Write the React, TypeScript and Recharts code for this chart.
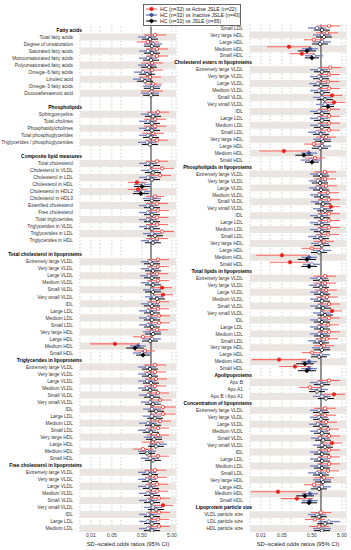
import React from 'react';
import {
  ComposedChart,
  Scatter,
  ErrorBar,
  XAxis,
  YAxis,
  CartesianGrid,
  ReferenceArea,
  ReferenceLine,
} from 'recharts';

type Ci = [number, number, number]; // odds ratio, lower 95% CI, upper 95% CI

const subclasses = [
  'Extremely large VLDL', 'Very large VLDL', 'Large VLDL', 'Medium VLDL', 'Small VLDL',
  'Very small VLDL', 'IDL', 'Large LDL', 'Medium LDL', 'Small LDL',
  'Very large HDL', 'Large HDL', 'Medium HDL', 'Small HDL',
];

const fattyAcids = [
  'Total fatty acids', 'Degree of unsaturation', 'Saturated fatty acids', 'Monounsaturated fatty acids',
  'Polyunsaturated fatty acids', 'Omega−6 fatty acids', 'Linoleic acid', 'Omega−3 fatty acids',
  'Docosahexaenoic acid',
];
const phospholipids = [
  'Sphingomyelins', 'Total cholines', 'Phosphatidylcholines', 'Total phosphoglycerides',
  'Triglycerides / phosphoglycerides',
];
const composite = [
  'Total cholesterol', 'Cholesterol in VLDL', 'Cholesterol in LDL', 'Cholesterol in HDL',
  'Cholesterol in HDL2', 'Cholesterol in HDL3', 'Esterified cholesterol', 'Free cholesterol',
  'Total triglycerides', 'Triglycerides in VLDL', 'Triglycerides in LDL', 'Triglycerides in HDL',
];
const apolipoproteins = ['Apo B', 'Apo A1', 'Apo B / Apo A1'];
const particleSize = ['VLDL particle size', 'LDL particle size', 'HDL particle size'];

type Group = { title: string | null; items: string[]; gap?: boolean; shadeFrom?: number };

const leftGroups: Group[] = [
  { title: 'Fatty acids', items: fattyAcids, gap: true },
  { title: 'Phospholipids', items: phospholipids, gap: true },
  { title: 'Composite lipid measures', items: composite, gap: true },
  { title: 'Total cholesterol in lipoproteins', items: subclasses },
  { title: 'Triglycerides in lipoproteins', items: subclasses },
  { title: 'Free cholesterol in lipoproteins', items: subclasses.slice(0, 9) },
];

const rightGroups: Group[] = [
  { title: null, items: subclasses.slice(9), shadeFrom: 9 },
  { title: 'Cholesterol esters in lipoproteins', items: subclasses },
  { title: 'Phospholipids in lipoproteins', items: subclasses },
  { title: 'Total lipids in lipoproteins', items: subclasses },
  { title: 'Apolipoproteins', items: apolipoproteins },
  { title: 'Concentration of lipoproteins', items: subclasses },
  { title: 'Lipoprotein particle size', items: particleSize },
];

// HC vs Active JSLE
const activeLeft: Ci[] = [
  [1.36, 0.58, 3.16], [0.79, 0.34, 1.85], [1.58, 0.68, 3.69], [1.58, 0.68, 3.69], [1.08, 0.46, 2.51],
  [1.08, 0.46, 2.51], [0.93, 0.4, 2.15], [1.17, 0.63, 2.33], [1.08, 0.46, 2.51],
  [1.71, 0.74, 3.98], [1.36, 0.58, 3.16], [1.36, 0.58, 3.16], [1.17, 0.5, 2.71], [1.58, 0.68, 3.69],
  [1.58, 0.68, 3.69], [2.33, 0.93, 5.84], [2.0, 0.86, 4.64], [0.34, 0.17, 0.71], [0.37, 0.17, 0.79],
  [1.36, 0.68, 2.71], [1.58, 0.68, 3.69], [1.71, 0.74, 3.98], [1.58, 0.68, 3.69], [1.58, 0.68, 3.69],
  [2.33, 0.93, 5.84], [1.58, 0.68, 3.69],
  [1.71, 0.74, 3.98], [1.71, 0.74, 3.98], [1.58, 0.68, 3.69], [1.71, 0.74, 3.98], [2.33, 1.08, 5.01],
  [2.51, 1.17, 5.41], [1.71, 0.74, 3.98], [1.71, 0.74, 3.98], [1.85, 0.79, 4.3], [1.85, 0.79, 4.3],
  [1.58, 0.68, 3.69], [0.54, 0.25, 1.17], [0.063, 0.0093, 0.43], [0.63, 0.29, 1.36],
  [1.36, 0.58, 3.16], [1.36, 0.58, 3.16], [1.47, 0.63, 3.41], [1.36, 0.58, 3.16], [1.71, 0.74, 3.98],
  [2.0, 0.86, 4.64], [2.51, 0.93, 6.7], [2.51, 0.93, 6.7], [2.0, 0.86, 4.64], [1.71, 0.74, 3.98],
  [1.71, 0.74, 3.98], [1.17, 0.5, 2.71], [0.54, 0.25, 1.17], [1.71, 0.74, 3.98],
  [1.36, 0.58, 3.16], [1.47, 0.63, 3.41], [1.58, 0.68, 3.69], [1.58, 0.68, 3.69], [1.85, 0.79, 4.3],
  [2.51, 1.17, 5.41], [1.85, 0.79, 4.3], [1.71, 0.74, 3.98], [1.85, 0.79, 4.3],
];

// HC vs Inactive JSLE
const inactiveLeft: Ci[] = [
  [0.74, 0.37, 1.47], [1.17, 0.58, 2.33], [0.79, 0.4, 1.58], [0.79, 0.4, 1.58], [0.74, 0.37, 1.47],
  [0.54, 0.27, 1.08], [0.5, 0.25, 1.04], [1.08, 0.54, 2.15], [0.93, 0.46, 1.85],
  [0.93, 0.46, 1.85], [0.79, 0.4, 1.58], [0.79, 0.4, 1.58], [0.79, 0.4, 1.58], [0.74, 0.37, 1.47],
  [0.79, 0.4, 1.58], [0.93, 0.46, 1.85], [0.79, 0.4, 1.58], [0.54, 0.27, 1.08], [0.54, 0.27, 1.08],
  [1.08, 0.54, 2.15], [0.79, 0.4, 1.58], [0.79, 0.4, 1.58], [0.79, 0.4, 1.58], [0.79, 0.4, 1.58],
  [1.08, 0.54, 2.15], [0.93, 0.46, 1.85],
  [0.93, 0.46, 1.85], [0.93, 0.46, 1.85], [0.86, 0.43, 1.71], [0.93, 0.46, 1.85], [1.08, 0.54, 2.15],
  [1.26, 0.63, 2.51], [0.93, 0.46, 1.85], [0.79, 0.4, 1.58], [0.79, 0.4, 1.58], [0.79, 0.4, 1.58],
  [1.08, 0.54, 2.15], [1.08, 0.54, 2.15], [0.37, 0.2, 0.68], [0.5, 0.25, 1.04],
  [0.74, 0.37, 1.47], [0.74, 0.37, 1.47], [0.74, 0.37, 1.47], [0.74, 0.37, 1.47], [0.79, 0.4, 1.58],
  [0.93, 0.46, 1.85], [1.08, 0.54, 2.15], [1.08, 0.54, 2.15], [0.79, 0.4, 1.58], [0.74, 0.37, 1.47],
  [1.17, 0.58, 2.33], [1.71, 0.86, 3.41], [0.74, 0.37, 1.47], [0.93, 0.46, 1.85],
  [0.74, 0.37, 1.47], [0.74, 0.37, 1.47], [0.74, 0.37, 1.47], [0.79, 0.4, 1.58], [0.79, 0.4, 1.58],
  [1.17, 0.58, 2.33], [0.79, 0.4, 1.58], [0.79, 0.4, 1.58], [0.79, 0.4, 1.58],
];

// HC vs JSLE
const allLeft: Ci[] = [
  [0.93, 0.5, 1.71], [1.08, 0.58, 2.0], [1.08, 0.58, 2.0], [1.0, 0.54, 1.85], [0.86, 0.46, 1.58],
  [0.74, 0.4, 1.36], [0.63, 0.34, 1.17], [1.08, 0.58, 2.0], [1.0, 0.54, 1.85],
  [1.17, 0.63, 2.15], [1.08, 0.58, 2.0], [1.08, 0.58, 2.0], [1.0, 0.54, 1.85], [0.93, 0.5, 1.71],
  [1.08, 0.58, 2.0], [1.17, 0.63, 2.15], [1.08, 0.58, 2.0], [0.5, 0.27, 0.93], [0.46, 0.25, 0.86],
  [1.08, 0.58, 2.0], [1.08, 0.58, 2.0], [1.08, 0.58, 2.0], [1.08, 0.58, 2.0], [1.08, 0.58, 2.0],
  [1.36, 0.74, 2.51], [1.17, 0.63, 2.15],
  [1.08, 0.58, 2.0], [1.17, 0.63, 2.15], [1.08, 0.58, 2.0], [1.17, 0.63, 2.15], [1.17, 0.63, 2.15],
  [1.58, 0.86, 2.93], [1.08, 0.58, 2.0], [1.08, 0.58, 2.0], [1.08, 0.58, 2.0], [1.08, 0.58, 2.0],
  [1.17, 0.63, 2.15], [0.93, 0.5, 1.71], [0.29, 0.15, 0.58], [0.54, 0.32, 0.93],
  [0.93, 0.5, 1.71], [0.93, 0.5, 1.71], [1.0, 0.54, 1.85], [0.93, 0.5, 1.71], [1.08, 0.58, 2.0],
  [1.17, 0.63, 2.15], [1.47, 0.79, 2.71], [1.36, 0.74, 2.51], [1.17, 0.63, 2.15], [1.0, 0.54, 1.85],
  [1.26, 0.68, 2.33], [1.47, 0.79, 2.71], [0.74, 0.4, 1.36], [1.17, 0.63, 2.15],
  [0.93, 0.5, 1.71], [0.93, 0.5, 1.71], [1.0, 0.54, 1.85], [1.08, 0.58, 2.0], [1.08, 0.58, 2.0],
  [1.47, 0.79, 2.71], [1.08, 0.58, 2.0], [1.08, 0.58, 2.0], [1.08, 0.58, 2.0],
];

const activeRight: Ci[] = [
  [1.85, 0.79, 4.3], [1.58, 0.68, 3.69], [0.58, 0.27, 1.26], [0.086, 0.016, 0.46], [0.23, 0.089, 0.61],
  [2.0, 0.86, 4.64], [1.85, 0.79, 4.3], [1.71, 0.74, 3.98], [1.85, 0.79, 4.3], [2.33, 1.08, 5.01],
  [2.71, 1.17, 6.31], [1.85, 0.79, 4.3], [1.85, 0.79, 4.3], [1.85, 0.79, 4.3], [1.85, 0.79, 4.3],
  [1.47, 0.68, 3.16], [0.58, 0.27, 1.26], [0.058, 0.0086, 0.4], [0.63, 0.29, 1.36],
  [1.36, 0.58, 3.16], [1.36, 0.58, 3.16], [1.47, 0.63, 3.41], [1.71, 0.74, 3.98], [1.85, 0.79, 4.3],
  [2.15, 1.08, 4.3], [1.85, 0.79, 4.3], [1.85, 0.79, 4.3], [1.85, 0.79, 4.3], [1.71, 0.74, 3.98],
  [1.26, 0.58, 2.71], [0.5, 0.23, 1.08], [0.05, 0.0068, 0.37], [0.093, 0.02, 0.43],
  [1.36, 0.58, 3.16], [1.36, 0.58, 3.16], [1.47, 0.63, 3.41], [1.58, 0.68, 3.69], [1.85, 0.79, 4.3],
  [2.33, 1.08, 5.01], [1.85, 0.79, 4.3], [1.71, 0.74, 3.98], [1.85, 0.79, 4.3], [1.58, 0.68, 3.69],
  [1.26, 0.58, 2.71], [0.5, 0.23, 1.08], [0.04, 0.005, 0.32], [0.136, 0.04, 0.46],
  [1.85, 0.79, 4.3], [0.43, 0.185, 1.04], [2.71, 1.17, 6.31],
  [1.36, 0.58, 3.16], [1.36, 0.58, 3.16], [1.47, 0.63, 3.41], [1.71, 0.74, 3.98], [1.85, 0.79, 4.3],
  [2.33, 1.08, 5.01], [1.85, 0.79, 4.3], [1.85, 0.79, 4.3], [1.85, 0.79, 4.3], [1.71, 0.74, 3.98],
  [1.26, 0.58, 2.71], [0.58, 0.27, 1.26], [0.037, 0.0046, 0.32], [0.158, 0.046, 0.54],
  [1.0, 0.46, 2.15], [0.63, 0.29, 1.36], [0.86, 0.4, 1.85],
];

const inactiveRight: Ci[] = [
  [0.74, 0.37, 1.47], [1.08, 0.54, 2.15], [1.08, 0.54, 2.15], [0.43, 0.23, 0.79], [0.58, 0.29, 1.17],
  [0.86, 0.43, 1.71], [0.86, 0.43, 1.71], [0.79, 0.4, 1.58], [0.86, 0.43, 1.71], [1.08, 0.54, 2.15],
  [1.36, 0.68, 2.71], [0.86, 0.43, 1.71], [0.86, 0.43, 1.71], [0.86, 0.43, 1.71], [0.74, 0.37, 1.47],
  [1.08, 0.54, 2.15], [1.08, 0.54, 2.15], [0.4, 0.22, 0.74], [0.46, 0.21, 1.02],
  [0.86, 0.43, 1.71], [0.79, 0.4, 1.58], [0.79, 0.4, 1.58], [0.86, 0.43, 1.71], [0.93, 0.46, 1.85],
  [1.08, 0.54, 2.15], [0.86, 0.43, 1.71], [0.86, 0.43, 1.71], [0.86, 0.43, 1.71], [0.74, 0.37, 1.47],
  [0.93, 0.46, 1.85], [1.08, 0.54, 2.15], [0.4, 0.22, 0.74], [0.5, 0.25, 1.04],
  [0.86, 0.43, 1.71], [0.79, 0.4, 1.58], [0.86, 0.43, 1.71], [0.86, 0.43, 1.71], [0.86, 0.43, 1.71],
  [1.08, 0.54, 2.15], [0.86, 0.43, 1.71], [0.86, 0.43, 1.71], [0.86, 0.43, 1.71], [0.74, 0.37, 1.47],
  [1.0, 0.5, 2.0], [1.0, 0.5, 2.0], [0.4, 0.22, 0.74], [0.4, 0.22, 0.74],
  [0.86, 0.43, 1.71], [0.86, 0.43, 1.71], [1.08, 0.54, 2.15],
  [0.86, 0.43, 1.71], [0.86, 0.43, 1.71], [0.79, 0.4, 1.58], [0.86, 0.43, 1.71], [0.93, 0.46, 1.85],
  [1.08, 0.54, 2.15], [0.86, 0.43, 1.71], [0.86, 0.43, 1.71], [0.86, 0.43, 1.71], [0.74, 0.37, 1.47],
  [1.08, 0.54, 2.15], [1.08, 0.54, 2.15], [0.43, 0.23, 0.79], [0.43, 0.23, 0.79],
  [0.74, 0.37, 1.47], [1.85, 0.79, 4.3], [1.08, 0.54, 2.15],
];

const allRight: Ci[] = [
  [1.08, 0.58, 2.0], [1.26, 0.68, 2.33], [0.93, 0.5, 1.71], [0.34, 0.17, 0.68], [0.5, 0.29, 0.86],
  [1.08, 0.58, 2.0], [1.0, 0.54, 1.85], [1.0, 0.54, 1.85], [1.08, 0.58, 2.0], [1.36, 0.74, 2.51],
  [1.71, 1.08, 2.71], [1.08, 0.58, 2.0], [1.08, 0.58, 2.0], [1.08, 0.58, 2.0], [1.0, 0.54, 1.85],
  [1.17, 0.63, 2.15], [0.93, 0.5, 1.71], [0.27, 0.14, 0.54], [0.5, 0.29, 0.86],
  [1.0, 0.54, 1.85], [0.93, 0.5, 1.71], [1.0, 0.54, 1.85], [1.08, 0.58, 2.0], [1.17, 0.63, 2.15],
  [1.36, 0.74, 2.51], [1.08, 0.58, 2.0], [1.08, 0.58, 2.0], [1.08, 0.58, 2.0], [1.0, 0.54, 1.85],
  [1.08, 0.58, 2.0], [0.86, 0.46, 1.58], [0.34, 0.17, 0.68], [0.4, 0.22, 0.74],
  [1.0, 0.54, 1.85], [1.0, 0.54, 1.85], [1.08, 0.58, 2.0], [1.08, 0.58, 2.0], [1.17, 0.63, 2.15],
  [1.36, 0.74, 2.51], [1.08, 0.58, 2.0], [1.08, 0.58, 2.0], [1.08, 0.58, 2.0], [1.0, 0.54, 1.85],
  [1.08, 0.58, 2.0], [0.86, 0.46, 1.58], [0.29, 0.15, 0.58], [0.34, 0.17, 0.68],
  [1.08, 0.58, 2.0], [0.74, 0.4, 1.36], [1.47, 0.79, 2.71],
  [1.0, 0.54, 1.85], [1.0, 0.54, 1.85], [1.0, 0.54, 1.85], [1.08, 0.58, 2.0], [1.17, 0.63, 2.15],
  [1.36, 0.74, 2.51], [1.08, 0.58, 2.0], [1.08, 0.58, 2.0], [1.08, 0.58, 2.0], [1.0, 0.54, 1.85],
  [1.17, 0.63, 2.15], [0.86, 0.46, 1.58], [0.29, 0.15, 0.58], [0.4, 0.22, 0.74],
  [0.86, 0.46, 1.58], [1.36, 0.74, 2.51], [1.08, 0.58, 2.0],
];

const xTicks = [0.01, 0.02, 0.05, 0.1, 0.5, 5];
const xLabels = [0.01, 0.05, 0.5, 5];

const SERIES = [
  { name: 'HC (n=32) vs Active JSLE (n=22)', color: '#e8231c', line: '#ff6a63', width: 1.1, shape: 'circle', off: -0.3 },
  { name: 'HC (n=32) vs Inactive JSLE (n=43)', color: '#3d4f9a', line: '#7a86c2', width: 1.4, shape: 'diamond', off: 0 },
  { name: 'HC (n=32) vs JSLE (n=65)', color: '#000000', line: '#111111', width: 1.05, shape: 'diamond', off: 0.3 },
];

const font = "'Liberation Sans', Arial, sans-serif";

type Row = { label: string; header: boolean; shaded: boolean; item: number };

function buildRows(groups: Group[]): Row[] {
  const rows: Row[] = [];
  let item = 0;
  groups.forEach((g) => {
    if (g.title) rows.push({ label: g.title, header: true, shaded: false, item: -1 });
    g.items.forEach((label, j) => {
      rows.push({ label, header: false, shaded: (j + (g.shadeFrom || 0)) % 2 === 0, item: item++ });
    });
    if (g.gap) rows.push({ label: '', header: false, shaded: false, item: -1 });
  });
  return rows;
}

const Marker = (props: any) => {
  const { cx, cy, payload, fill, stroke, kind } = props;
  if (cx == null || cy == null) return <g />;
  const face = payload.sig ? fill : '#ffffff';
  if (kind === 'circle') {
    return <circle cx={cx} cy={cy} r={1.7} fill={face} stroke={stroke} strokeWidth={0.8} />;
  }
  const s = 2.1;
  return (
    <polygon
      points={`${cx},${cy - s} ${cx + s},${cy} ${cx},${cy + s} ${cx - s},${cy}`}
      fill={face}
      stroke={stroke}
      strokeWidth={0.8}
    />
  );
};

const Panel = ({ groups, values, width, axisWidth, top }: any) => {
  const rows = buildRows(groups);
  const n = rows.length;
  const data = SERIES.map((s, si) =>
    rows.flatMap((r, i) => {
      if (r.item < 0) return [];
      const [or, lo, hi] = values[si][r.item] as Ci;
      return [{ y: i + s.off, x: or, err: [or - lo, hi - or], sig: lo > 1 || hi < 1 }];
    }),
  );

  const renderTick = (props: any) => {
    const { x, y, payload } = props;
    const r = rows[payload.value];
    if (!r || !r.label) return <g />;
    return (
      <text
        x={r.header ? x + 9 : x}
        y={y}
        dy={1.7}
        textAnchor="end"
        fontSize={r.header ? 4.9 : 4.85}
        fontWeight={r.header ? 'bold' : 'normal'}
        fill={r.header ? '#000' : '#333'}
        fontFamily={font}
      >
        {r.label}
      </text>
    );
  };

  return (
    <ComposedChart layout="vertical" width={width} height={550} margin={{ top, right: 5, bottom: 0, left: 0 }}>
      {rows.map((r, i) =>
        r.shaded ? (
          <ReferenceArea key={`b${i}`} y1={i - 0.5} y2={i + 0.5} fill="#eae5e0" fillOpacity={1} stroke="none" />
        ) : null,
      )}
      <CartesianGrid horizontal={false} stroke="#b5b5b5" strokeDasharray="1.5 2" strokeWidth={0.7} />
      <XAxis
        type="number"
        dataKey="x"
        scale="log"
        domain={[0.00433, 6.81]}
        allowDataOverflow
        ticks={xTicks}
        interval={0}
        tickFormatter={(v: number) => (xLabels.includes(v) ? v.toFixed(2) : '')}
        axisLine={false}
        tickLine={false}
        tickSize={0}
        tickMargin={1}
        height={18}
        tick={{ fontSize: 5, fill: '#333', fontFamily: font }}
        label={{
          value: 'SD−scaled odds ratios (95% CI)',
          position: 'insideBottom',
          offset: 4,
          fontSize: 5.8,
          fill: '#222',
          fontFamily: font,
        }}
      />
      <YAxis
        type="number"
        dataKey="y"
        domain={[-0.5, n - 0.5]}
        allowDataOverflow
        ticks={rows.map((_, i) => i)}
        interval={0}
        width={axisWidth}
        axisLine={false}
        tickLine={false}
        tickSize={0}
        tickMargin={7}
        tick={renderTick}
      />
      <ReferenceLine x={1} stroke="#5a5a5a" strokeWidth={1.3} />
      {SERIES.map((s, si) => (
        <Scatter
          key={s.name}
          name={s.name}
          data={data[si]}
          fill={s.color}
          stroke={s.color}
          isAnimationActive={false}
          shape={(p: any) => <Marker {...p} kind={s.shape} fill={s.color} stroke={s.color} />}
        >
          <ErrorBar dataKey="err" direction="x" width={0} stroke={s.line} strokeWidth={s.width} />
        </Scatter>
      ))}
    </ComposedChart>
  );
};

const LegendBox = () => (
  <svg style={{ position: 'absolute', left: 143, top: 4 }} width={98} height={22}>
    <rect x={0.5} y={0.5} width={97} height={21} fill="#fff" stroke="#444" strokeWidth={0.8} />
    {SERIES.map((s, i) => {
      const y = 5 + i * 6;
      return (
        <g key={s.name}>
          <line x1={3} x2={14} y1={y} y2={y} stroke={s.line} strokeWidth={s.width} />
          <Marker cx={8.5} cy={y} payload={{ sig: true }} kind={s.shape} fill={s.color} stroke={s.color} />
          <text x={17} y={y} dy={1.8} fontSize={5.2} fill="#222" fontFamily={font}>
            {s.name}
          </text>
        </g>
      );
    })}
  </svg>
);

export default function App() {
  return (
    <div style={{ position: 'relative', width: 351, height: 550, fontFamily: font, background: '#fff' }}>
      <style>{'body{margin:0}'}</style>
      <div style={{ position: 'absolute', left: 0, top: 0 }}>
        <Panel groups={leftGroups} values={[activeLeft, inactiveLeft, allLeft]} width={181} axisWidth={80} top={26.5} />
      </div>
      <div style={{ position: 'absolute', left: 166, top: 0 }}>
        <Panel groups={rightGroups} values={[activeRight, inactiveRight, allRight]} width={185} axisWidth={84} top={24.5} />
      </div>
      <LegendBox />
    </div>
  );
}
